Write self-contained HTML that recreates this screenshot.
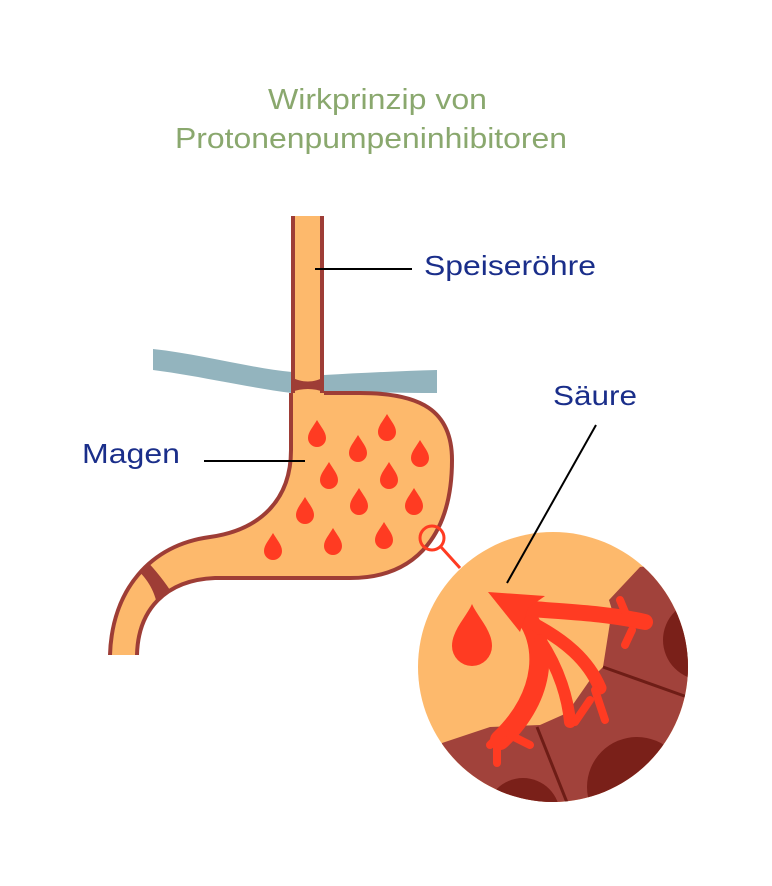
<!DOCTYPE html>
<html><head><style>body{margin:0;background:#fff}svg{display:block}</style></head><body>
<svg width="772" height="886" viewBox="0 0 772 886" xmlns="http://www.w3.org/2000/svg" font-family="Liberation Sans, sans-serif">
<text x="268" y="109" font-size="29" fill="#8aa86e" textLength="219" lengthAdjust="spacingAndGlyphs">Wirkprinzip von</text>
<text x="175" y="148" font-size="29" fill="#8aa86e" textLength="392" lengthAdjust="spacingAndGlyphs">Protonenpumpeninhibitoren</text>
<defs>
<clipPath id="st"><path d="M291,393 L291,450 C291,500 260,530 210,537 C150,545 112,590 110,655 L137,655 C138,610 165,580 215,578 L350,578 C420,578 452,530 452,460 C452,410 420,393 360,393 Z"/></clipPath>
<clipPath id="c"><circle cx="553" cy="667" r="135"/></clipPath>
</defs>
<!-- diaphragm -->
<path d="M153,349 C200,354 250,368 292,372 L324,375 C360,373 400,371 437,370 L437,393 C400,393 360,392 324,392 L292,393 C250,388 200,376 153,370 Z" fill="#93b4be"/>
<!-- esophagus -->
<rect x="291" y="216" width="33" height="180" fill="#fdb96c"/>
<line x1="293" y1="216" x2="293" y2="396" stroke="#9e3d36" stroke-width="4"/>
<line x1="322" y1="216" x2="322" y2="396" stroke="#9e3d36" stroke-width="4"/>
<path d="M291,377 C302,383 314,383 324,377 L324,392 C314,388 302,388 291,392 Z" fill="#9e3d36"/>
<!-- stomach -->
<path d="M291,393 L291,450 C291,500 260,530 210,537 C150,545 112,590 110,655 L137,655 C138,610 165,580 215,578 L350,578 C420,578 452,530 452,460 C452,410 420,393 360,393 Z" fill="#fdb96c"/>
<path d="M110,655 C112,590 150,545 210,537 C260,530 291,500 291,450 L291,393 M324,393 L360,393 C420,393 452,410 452,460 C452,530 420,578 350,578 L215,578 C165,580 138,610 137,655" fill="none" stroke="#9e3d36" stroke-width="4"/>
<g clip-path="url(#st)">
<path d="M128,562 C142,572 152,585 156,600 L170,590 C162,578 152,566 140,554 Z" fill="#9e3d36"/>
</g>
<g fill="#ff3b22">
<path id="d" d="M0,-15 C4,-8 9,-3 9,3 A9,9 0 0 1 -9,3 C-9,-3 -4,-8 0,-15 Z" transform="translate(317,435)"/>
<use href="#d" x="70" y="-6"/><use href="#d" x="41" y="15"/><use href="#d" x="103" y="20"/>
<use href="#d" x="12" y="42"/><use href="#d" x="72" y="42"/><use href="#d" x="-12" y="77"/>
<use href="#d" x="42" y="68"/><use href="#d" x="97" y="68"/><use href="#d" x="-44" y="113"/>
<use href="#d" x="16" y="108"/><use href="#d" x="67" y="102"/>
</g>
<circle cx="432" cy="538" r="12" fill="none" stroke="#ff3b22" stroke-width="3"/>
<line x1="441" y1="547" x2="460" y2="568" stroke="#ff3b22" stroke-width="3"/>
<!-- zoom circle -->
<g clip-path="url(#c)">
<rect x="410" y="520" width="290" height="300" fill="#fdb96c"/>
<path d="M640,567 L609,600 L612,610 L603,667 L590,680 L567,713 L540,725 L490,727 L442,743 L430,820 L700,820 L700,560 Z" fill="#a1423b"/>
<circle cx="703" cy="640" r="40" fill="#7a2019"/>
<circle cx="637" cy="787" r="50" fill="#7a2019"/>
<circle cx="523" cy="815" r="37" fill="#7a2019"/>
<line x1="603" y1="667" x2="690" y2="698" stroke="#6e1d16" stroke-width="3"/>
<line x1="537" y1="727" x2="568" y2="805" stroke="#6e1d16" stroke-width="3"/>
<g fill="none" stroke="#ff3b22" stroke-linecap="round">
<path d="M522,612 C548,640 548,695 500,740" stroke-width="20"/>
<path d="M522,608 C560,612 600,612 645,622" stroke-width="16"/>
<path d="M530,622 C565,640 588,660 600,688" stroke-width="13"/>
<path d="M540,640 C560,670 568,700 570,722" stroke-width="12"/>
<path d="M625,612 L620,600 M632,630 L625,645 M595,690 L605,720 M590,700 L575,722 M505,730 L490,745 M510,735 L530,745 M497,742 L497,763" stroke-width="8"/>
</g>
<path d="M488,592 L545,596 L528,608 L520,632 Z" fill="#ff3b22"/>
</g>
<path d="M472,604 C477,616 492,630 492,646 A16,16 0 0 1 452,646 C452,630 467,616 472,604 Z" fill="#ff3b22"/>
<!-- labels -->
<line x1="315" y1="269" x2="412" y2="269" stroke="#000" stroke-width="2"/>
<text x="424" y="275" font-size="28" fill="#1a2e8a" textLength="172" lengthAdjust="spacingAndGlyphs">Speiseröhre</text>
<line x1="204" y1="461" x2="305" y2="461" stroke="#000" stroke-width="2"/>
<text x="82" y="463" font-size="28" fill="#1a2e8a" textLength="98" lengthAdjust="spacingAndGlyphs">Magen</text>
<line x1="596" y1="425" x2="507" y2="583" stroke="#000" stroke-width="2"/>
<text x="553" y="405" font-size="28" fill="#1a2e8a" textLength="84" lengthAdjust="spacingAndGlyphs">Säure</text>
</svg>
</body></html>
